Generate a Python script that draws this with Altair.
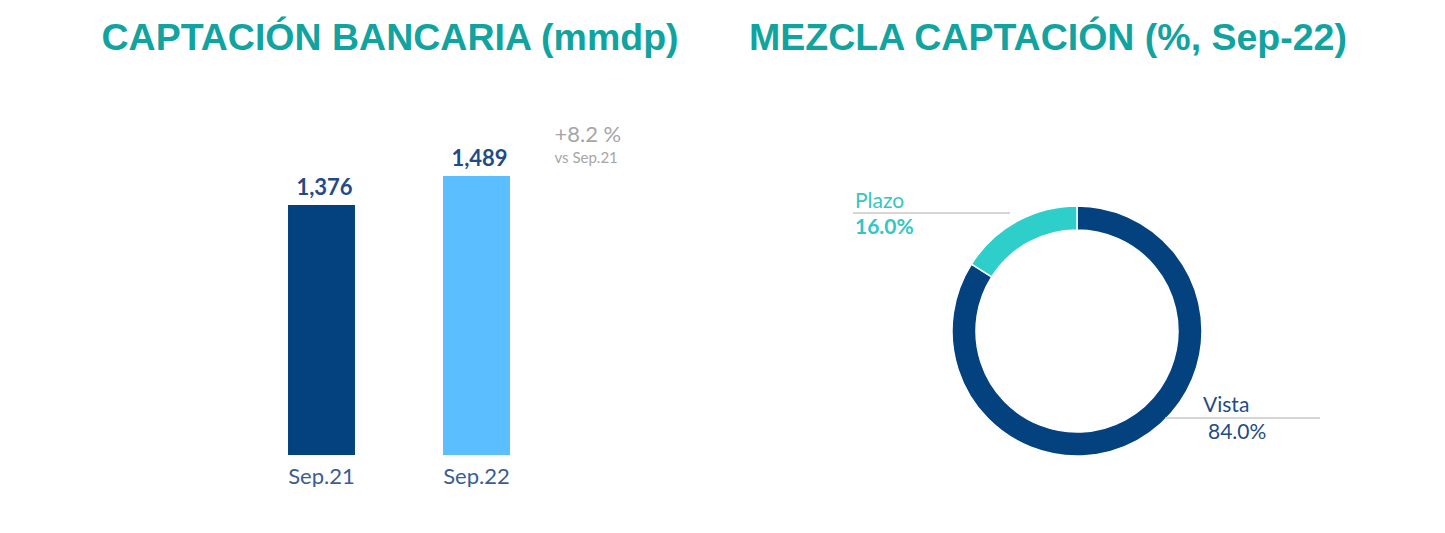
import altair as alt
import pandas as pd

# ---- data ----
periods = ["Sep.21", "Sep.22"]
deposits = [1376, 1489]
growth_label = "+8.2 %"
growth_sub = "vs Sep.21"

mix_names = ["Vista", "Plazo"]
mix_pct = [84.0, 16.0]

left_title = "CAPTACIÓN BANCARIA (mmdp)"
right_title = "MEZCLA CAPTACIÓN (%, Sep-22)"

# ---- styles ----
NAVY = "#03427F"
LIGHT = "#5BBEFF"
TEAL = "#2ECECB"
TITLE_C = "#11A3A0"
LABEL_C = "#1F4C86"
AXIS_C = "#3B5E8E"
GRAY = "#A6A6A6"
LINE_C = "#C8C8C8"

Y0 = 402

bars_df = pd.DataFrame({
    "period": periods,
    "value": deposits,
    "label": [f"{v:,}" for v in deposits],
})
note_df = pd.DataFrame({
    "period": [periods[1]],
    "value": [deposits[1]],
    "line1": [growth_label],
    "line2": [growth_sub],
})

x = alt.X(
    "period:N", sort=periods,
    scale=alt.Scale(range=[236, 546], paddingInner=0.568, paddingOuter=0.284),
    axis=alt.Axis(title=None, domain=False, ticks=False, labelAngle=0,
                  labelFontSize=22, labelFont="Lato", labelColor=AXIS_C,
                  labelPadding=11),
)
y = alt.Y("value:Q", scale=alt.Scale(domain=[Y0, 1785], zero=False, nice=False), axis=None)

bars = alt.Chart(bars_df).mark_bar().encode(
    x=x, y=y, y2=alt.datum(Y0),
    color=alt.Color("period:N", scale=alt.Scale(domain=periods, range=[NAVY, LIGHT]), legend=None),
)
values = alt.Chart(bars_df).mark_text(
    font="Lato", fontSize=22, fontWeight="bold", color=LABEL_C, dx=3, dy=-17, baseline="middle"
).encode(x=x, y=y, text="label:N")
note1 = alt.Chart(note_df).mark_text(
    font="Lato", fontSize=22, color=GRAY, align="left", baseline="middle", dx=78, dy=-41
).encode(x=x, y=y, text="line1:N")
note2 = alt.Chart(note_df).mark_text(
    font="Lato", fontSize=15, color=GRAY, align="left", baseline="middle", dx=78, dy=-18
).encode(x=x, y=y, text="line2:N")

title_kw = dict(font="Liberation Sans", fontSize=37.5, fontWeight="bold", color=TITLE_C,
                anchor="middle", offset=43)

left = alt.layer(bars, values, note1, note2).properties(
    width=740, height=355, title=alt.TitleParams(left_title, dx=12, **title_kw)
)

# ---- donut ----
mix_df = pd.DataFrame({"name": mix_names, "pct": mix_pct, "order": [0, 1]})
mix_df["label"] = [f"{p:.1f}%" for p in mix_pct]

arc = alt.Chart(mix_df).mark_arc(
    outerRadius=125, innerRadius=101, stroke="white", strokeWidth=1.5
).encode(
    theta=alt.Theta("pct:Q", stack=True),
    order=alt.Order("order:Q"),
    color=alt.Color("name:N", scale=alt.Scale(domain=mix_names, range=[NAVY, TEAL]), legend=None),
    x=alt.value(329), y=alt.value(231),
)

label_style = {
    "Vista": dict(xt=455, xn=460, x1=417, x2=572, yl=318, yt=312, yn=339,
                  color=LABEL_C, nweight="normal"),
    "Plazo": dict(xt=107, xn=107, x1=105, x2=262, yl=113, yt=108, yn=134,
                  color="#33C6C4", nweight="bold"),
}

layers = [arc]
for n in mix_names:
    s = label_style[n]
    src = alt.Chart(mix_df).transform_filter(alt.datum.name == n)
    layers.append(src.mark_rule(color=LINE_C, strokeWidth=1.5).encode(
        x=alt.value(s["x1"]), x2=alt.value(s["x2"]), y=alt.value(s["yl"])))
    layers.append(src.mark_text(font="Lato", fontSize=21, color=s["color"], align="left",
                                baseline="alphabetic").encode(
        x=alt.value(s["xt"]), y=alt.value(s["yt"]), text="name:N"))
    layers.append(src.mark_text(font="Lato", fontSize=21, color=s["color"], align="left",
                                baseline="alphabetic", fontWeight=s["nweight"]).encode(
        x=alt.value(s["xn"]), y=alt.value(s["yn"]), text="label:N"))

right = alt.layer(*layers).properties(
    width=600, height=355, title=alt.TitleParams(right_title, **title_kw)
)

chart = alt.hconcat(left, right, spacing=0).resolve_scale(color="independent").properties(
    padding={"left": 0, "top": 11, "right": 0, "bottom": 0}
).configure_view(stroke=None)

chart.save("out.html", embed_options={"renderer": "svg", "actions": False})
